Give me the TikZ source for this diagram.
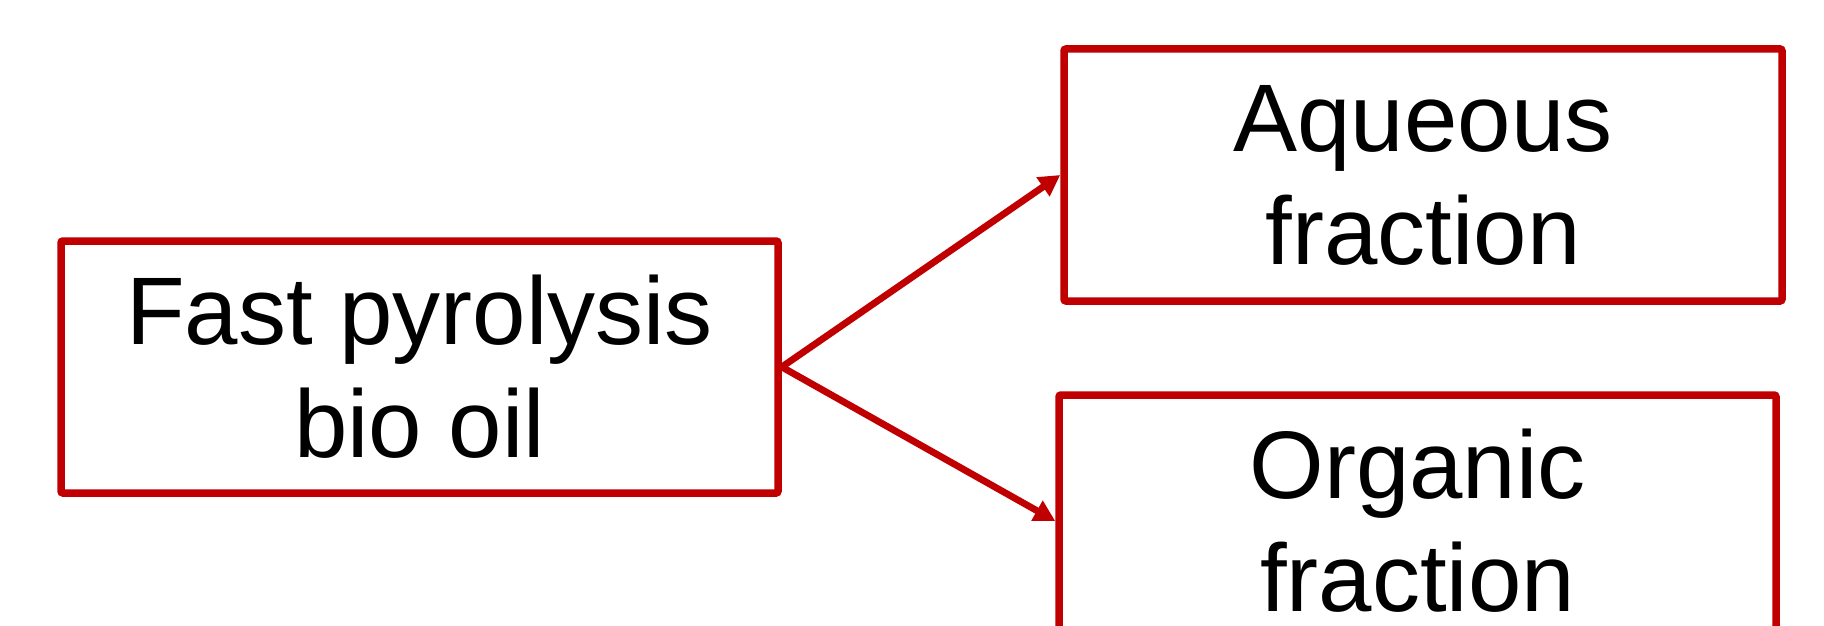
\documentclass[tikz,border=0pt]{standalone}
\usepackage{fontspec}
\setmainfont{Liberation Sans}
\usetikzlibrary{arrows.meta}
\definecolor{boxred}{RGB}{192,0,0}
\tikzset{
  stagebox/.style={draw=boxred, line width=7.5pt, rounded corners=2pt,
    minimum width=717pt, minimum height=252pt, inner sep=0pt,
    align=center, font=\fontsize{96}{113}\selectfont},
  flow/.style={draw=boxred, line width=6.8pt,
    -{Triangle[length=21pt,width=22pt]}}
}
\begin{document}
\begin{tikzpicture}
\clip (0pt,0pt) rectangle (1824pt,-626pt);
\node[stagebox] (oil) at (419.5pt,-367pt) {Fast pyrolysis\\bio oil};
\node[stagebox, minimum width=718pt] (aq) at (1423pt,-175pt) {Aqueous\\fraction};
\node[stagebox] (org) at (1417.5pt,-521pt) {Organic\\fraction};
\draw[flow] (oil.east) -- (aq.west);
\draw[flow] (oil.east) -- (org.west);
\end{tikzpicture}
\end{document}
